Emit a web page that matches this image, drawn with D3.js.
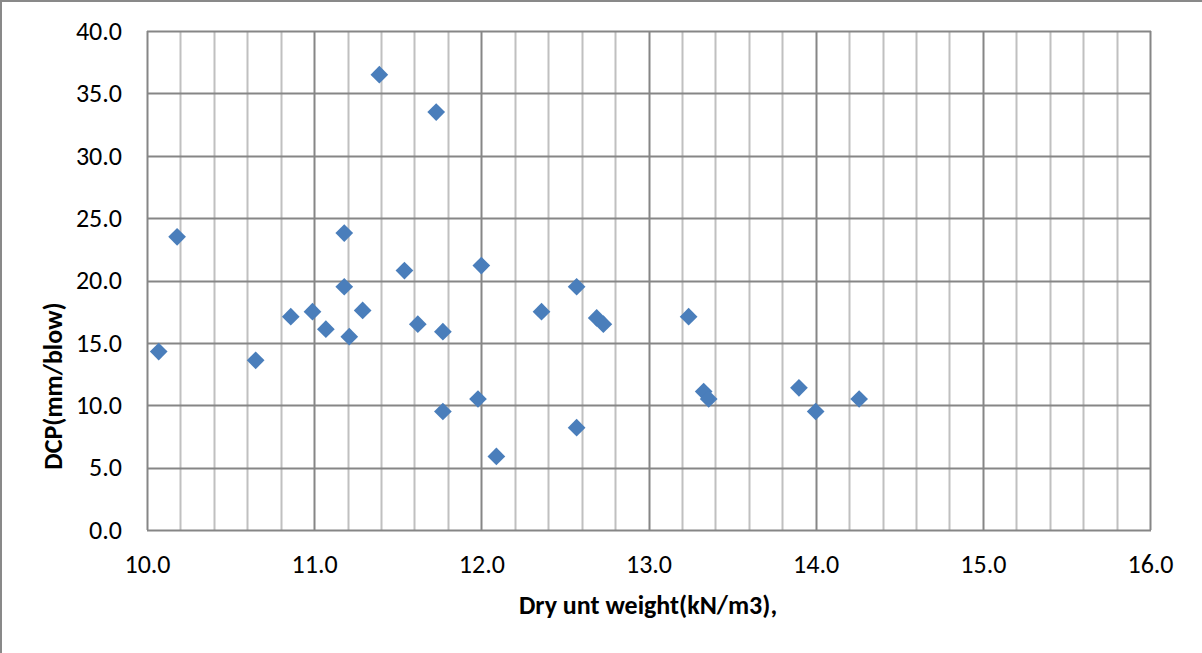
<!DOCTYPE html>
<html>
<head>
<meta charset="utf-8">
<script src="https://cdn.jsdelivr.net/npm/d3@7/dist/d3.min.js"></script>
<style>
  html, body { margin: 0; padding: 0; background: #fff; }
  svg { display: block; }
  text { font-family: Carlito, Calibri, Lato, "Open Sans", sans-serif; fill: #000; }
</style>
</head>
<body>
<svg id="chart" width="1202" height="653"></svg>
<script>
// Dry unit weight (kN/m3) vs DCP penetration (mm/blow)
const dryUnitWeight = [
  10.07, 10.18, 10.65, 10.86, 10.99, 11.07, 11.18, 11.18, 11.21, 11.29,
  11.39, 11.54, 11.62, 11.73, 11.77, 11.77, 11.98, 12.00, 12.09, 12.36,
  12.57, 12.57, 12.69, 12.73, 13.24, 13.33, 13.36, 13.90, 14.00, 14.26
];
const dcpValues = [
  14.3, 23.5, 13.6, 17.1, 17.5, 16.1, 23.8, 19.5, 15.5, 17.6,
  36.5, 20.8, 16.5, 33.5, 15.9, 9.5, 10.5, 21.2, 5.9, 17.5,
  19.5, 8.2, 17.0, 16.5, 17.1, 11.1, 10.5, 11.4, 9.5, 10.5
];
const xTicks = [10, 11, 12, 13, 14, 15, 16];
const yTicks = [0, 5, 10, 15, 20, 25, 30, 35, 40];
const xMinorTicks = d3.range(10, 16.0001, 0.2);
const xTitle = "Dry unt weight(kN/m3),";
const yTitle = "DCP(mm/blow)";

const svg = d3.select("#chart");
const W = 1202, H = 653;
const plot = { left: 147, top: 31, right: 1150, bottom: 530 };

// outer chart frame (left and top edges visible)
svg.append("path")
  .attr("d", `M1,${H + 5} L1,1 L${W + 5},1`)
  .attr("fill", "none").attr("stroke", "#898989").attr("stroke-width", 2);

const x = d3.scaleLinear().domain([10, 16]).range([plot.left, plot.right]);
const y = d3.scaleLinear().domain([0, 40]).range([plot.bottom, plot.top]);

// minor vertical gridlines
svg.append("g").selectAll("line")
  .data(xMinorTicks.filter(v => Math.abs(v - Math.round(v)) > 1e-6))
  .join("line")
  .attr("x1", d => Math.round(x(d)) + 0.5).attr("x2", d => Math.round(x(d)) + 0.5)
  .attr("y1", plot.top).attr("y2", plot.bottom)
  .attr("stroke", "#c0c0c0").attr("stroke-width", 2);

// major vertical gridlines
svg.append("g").selectAll("line")
  .data(xTicks)
  .join("line")
  .attr("x1", d => Math.round(x(d)) + 0.5).attr("x2", d => Math.round(x(d)) + 0.5)
  .attr("y1", plot.top).attr("y2", plot.bottom)
  .attr("stroke", "#868686").attr("stroke-width", 2);

// major horizontal gridlines
svg.append("g").selectAll("line")
  .data(yTicks)
  .join("line")
  .attr("x1", plot.left).attr("x2", plot.right + 1)
  .attr("y1", d => Math.round(y(d)) + 0.5).attr("y2", d => Math.round(y(d)) + 0.5)
  .attr("stroke", "#868686").attr("stroke-width", 2);

// axes with labels only (lines drawn by gridlines)
const xAxis = d3.axisBottom(x).tickValues(xTicks).tickSize(0).tickPadding(0)
  .tickFormat(d3.format(".1f"));
const yAxis = d3.axisLeft(y).tickValues(yTicks).tickSize(0).tickPadding(0)
  .tickFormat(d3.format(".1f"));

const gx = svg.append("g").attr("transform", `translate(0,${plot.bottom})`).call(xAxis);
gx.select(".domain").remove();
gx.selectAll("text").attr("dy", null).attr("y", 43)
  .style("font-size", "26px");

const gy = svg.append("g").attr("transform", `translate(${plot.left},0)`).call(yAxis);
gy.select(".domain").remove();
gy.selectAll("text").attr("x", -25).attr("dy", "0.32em")
  .style("font-size", "26px");

// scatter markers (diamonds)
const diamond = d3.symbol().type(d3.symbolDiamond2).size(200);
svg.append("g").selectAll("path")
  .data(dryUnitWeight.map((v, i) => [v, dcpValues[i]]))
  .join("path")
  .attr("d", diamond)
  .attr("transform", d => `translate(${x(d[0])},${y(d[1])})`)
  .attr("fill", "#4A7EBB");

// axis titles
svg.append("text")
  .attr("x", 648).attr("y", 614)
  .attr("text-anchor", "middle")
  .style("font-size", "26px").style("font-weight", "bold")
  .text(xTitle);

svg.append("text")
  .attr("transform", `translate(62,386) rotate(-90)`)
  .attr("text-anchor", "middle")
  .style("font-size", "26px").style("font-weight", "bold")
  .text(yTitle);
</script>
</body>
</html>
